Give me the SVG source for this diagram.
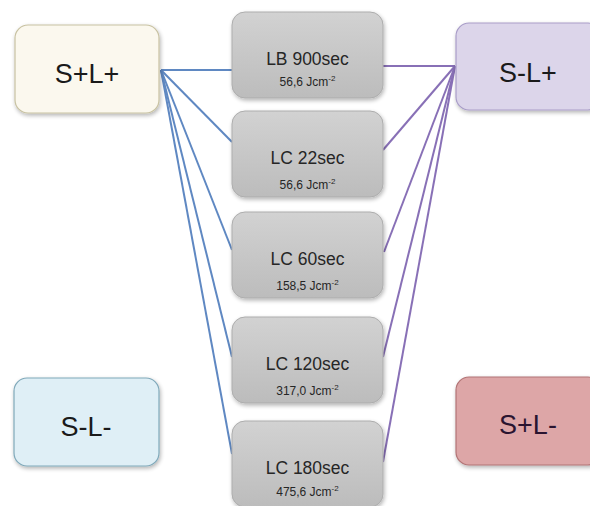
<svg xmlns="http://www.w3.org/2000/svg" width="590" height="506" viewBox="0 0 590 506">
  <defs>
    <linearGradient id="grey" x1="0" y1="0" x2="0" y2="1">
      <stop offset="0" stop-color="#d2d2d2"/>
      <stop offset="1" stop-color="#bcbcbc"/>
    </linearGradient>
    <filter id="shadow" x="-10%" y="-10%" width="125%" height="130%">
      <feGaussianBlur in="SourceAlpha" stdDeviation="2"/>
      <feOffset dx="1" dy="2"/>
      <feComponentTransfer><feFuncA type="linear" slope="0.3"/></feComponentTransfer>
      <feMerge><feMergeNode/><feMergeNode in="SourceGraphic"/></feMerge>
    </filter>
  </defs>
  <style>
    .state { stroke-width: 1.2; filter: url(#shadow); }
    .state-label { font-family: "Liberation Sans", Arial, sans-serif; font-size: 27px; fill: #1a1a1a; text-anchor: middle; }
    .dose { fill: url(#grey); stroke: #adadad; stroke-width: 1; filter: url(#shadow); }
    .dose-title { font-family: "Liberation Sans", Arial, sans-serif; font-size: 17.5px; fill: #262626; text-anchor: middle; }
    .dose-value { font-family: "Liberation Sans", Arial, sans-serif; font-size: 12px; fill: #262626; text-anchor: middle; }
    .sup { font-size: 8px; }
    .link-blue { stroke: #5f88c2; stroke-width: 2; fill: none; }
    .link-purple { stroke: #8870b6; stroke-width: 2; fill: none; }
  </style>
  <rect width="590" height="506" fill="#ffffff"/>

  <!-- connectors -->
  <g id="connectors">
    <line class="link-blue" x1="161" y1="70" x2="232" y2="70"/>
    <line class="link-blue" x1="161" y1="70" x2="232" y2="142"/>
    <line class="link-blue" x1="161" y1="70" x2="232" y2="250"/>
    <line class="link-blue" x1="161" y1="70" x2="232" y2="357"/>
    <line class="link-blue" x1="161" y1="70" x2="232" y2="454"/>
    <line class="link-purple" x1="455" y1="66" x2="383" y2="66"/>
    <line class="link-purple" x1="455" y1="66" x2="383" y2="150"/>
    <line class="link-purple" x1="455" y1="66" x2="384" y2="252"/>
    <line class="link-purple" x1="455" y1="66" x2="383" y2="357"/>
    <line class="link-purple" x1="455" y1="66" x2="383" y2="462"/>
  </g>

  <!-- outer state nodes -->
  <g id="node-splus-lplus">
    <rect class="state" x="15" y="25" width="144" height="88" rx="13" fill="#fbf8ee" stroke="#c8c2a2"/>
    <text class="state-label" x="87" y="83">S+L+</text>
  </g>
  <g id="node-sminus-lplus">
    <rect class="state" x="456" y="23" width="145" height="87" rx="13" fill="#dcd5ea" stroke="#a99dc8"/>
    <text class="state-label" x="528" y="82">S-L+</text>
  </g>
  <g id="node-sminus-lminus">
    <rect class="state" x="14" y="378" width="145" height="88" rx="13" fill="#dfeff6" stroke="#80a9ba"/>
    <text class="state-label" x="86" y="436">S-L-</text>
  </g>
  <g id="node-splus-lminus">
    <rect class="state" x="456" y="377" width="145" height="88" rx="13" fill="#dda6a7" stroke="#b27476"/>
    <text class="state-label" x="528" y="434" style="fill:#2a1430">S+L-</text>
  </g>

  <!-- light dose nodes -->
  <g id="node-lb900">
    <rect class="dose" x="232" y="12" width="151" height="86" rx="13"/>
    <text class="dose-title" x="307.5" y="65">LB 900sec</text>
    <text class="dose-value" x="307.5" y="86">56,6 Jcm<tspan class="sup" dy="-5">-2</tspan></text>
  </g>
  <g id="node-lc22">
    <rect class="dose" x="232" y="111" width="151" height="86" rx="13"/>
    <text class="dose-title" x="307.5" y="164">LC 22sec</text>
    <text class="dose-value" x="307.5" y="189">56,6 Jcm<tspan class="sup" dy="-5">-2</tspan></text>
  </g>
  <g id="node-lc60">
    <rect class="dose" x="232" y="212" width="151" height="86" rx="13"/>
    <text class="dose-title" x="307.5" y="265">LC 60sec</text>
    <text class="dose-value" x="307.5" y="290">158,5 Jcm<tspan class="sup" dy="-5">-2</tspan></text>
  </g>
  <g id="node-lc120">
    <rect class="dose" x="232" y="317" width="151" height="86" rx="13"/>
    <text class="dose-title" x="307.5" y="370">LC 120sec</text>
    <text class="dose-value" x="307.5" y="395">317,0 Jcm<tspan class="sup" dy="-5">-2</tspan></text>
  </g>
  <g id="node-lc180">
    <rect class="dose" x="232" y="421" width="151" height="86" rx="13"/>
    <text class="dose-title" x="307.5" y="474">LC 180sec</text>
    <text class="dose-value" x="307.5" y="496">475,6 Jcm<tspan class="sup" dy="-5">-2</tspan></text>
  </g>
</svg>
